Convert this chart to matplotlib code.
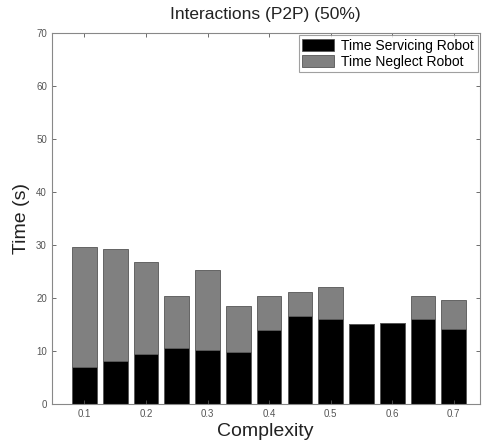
import matplotlib
matplotlib.use("Agg")
import matplotlib.pyplot as plt
import numpy as np

complexity = [0.10, 0.15, 0.20, 0.25, 0.30, 0.35, 0.40, 0.45, 0.50, 0.55, 0.60, 0.65, 0.70]
servicing = [6.9, 8.2, 9.4, 10.5, 10.2, 9.9, 14.0, 16.6, 16.1, 15.1, 15.3, 16.1, 14.1]
total = [29.6, 29.2, 26.8, 20.4, 25.3, 18.5, 20.4, 21.1, 22.1, 15.1, 15.3, 20.3, 19.7]
neglect = [t - s for t, s in zip(total, servicing)]
xticks = [0.1, 0.2, 0.3, 0.4, 0.5, 0.6, 0.7]
yticks = [0, 10, 20, 30, 40, 50, 60, 70]

plt.rcParams['font.family'] = ['Liberation Sans', 'DejaVu Sans']

fig = plt.figure(figsize=(4.84, 4.46), dpi=100)
ax = fig.add_axes([0.107, 0.094, 0.884, 0.832])

ax.bar(complexity, servicing, width=0.04, color='black', edgecolor='#555555',
       linewidth=0.6, label='Time Servicing Robot')
ax.bar(complexity, neglect, width=0.04, bottom=servicing, color='#808080',
       edgecolor='#555555', linewidth=0.6, label='Time Neglect Robot')

ax.set_xlim(0.047, 0.742)
ax.set_ylim(0, 70)
ax.set_xticks(xticks)
ax.set_xticklabels([f"{v:.1f}" for v in xticks])
ax.set_yticks(yticks)
ax.tick_params(direction='in', top=True, right=True, labelsize=7,
               colors='#555555', length=3, width=0.6)
for s in ax.spines.values():
    s.set_color('#888888')
    s.set_linewidth(0.8)

ax.set_title('Interactions (P2P) (50%)', fontsize=12.5, color='#222222', pad=10)
ax.set_xlabel('Complexity', fontsize=14, color='#222222', labelpad=3)
ax.set_ylabel('Time (s)', fontsize=14, color='#222222', labelpad=4)

leg = ax.legend(loc='upper right', fontsize=10, frameon=True, fancybox=False,
                borderaxespad=0.15, handlelength=2.3, handleheight=0.9,
                labelspacing=0.15, borderpad=0.25, handletextpad=0.5)
leg.get_frame().set_edgecolor('#888888')
leg.get_frame().set_linewidth(0.8)

fig.savefig('out.png', dpi=100)
